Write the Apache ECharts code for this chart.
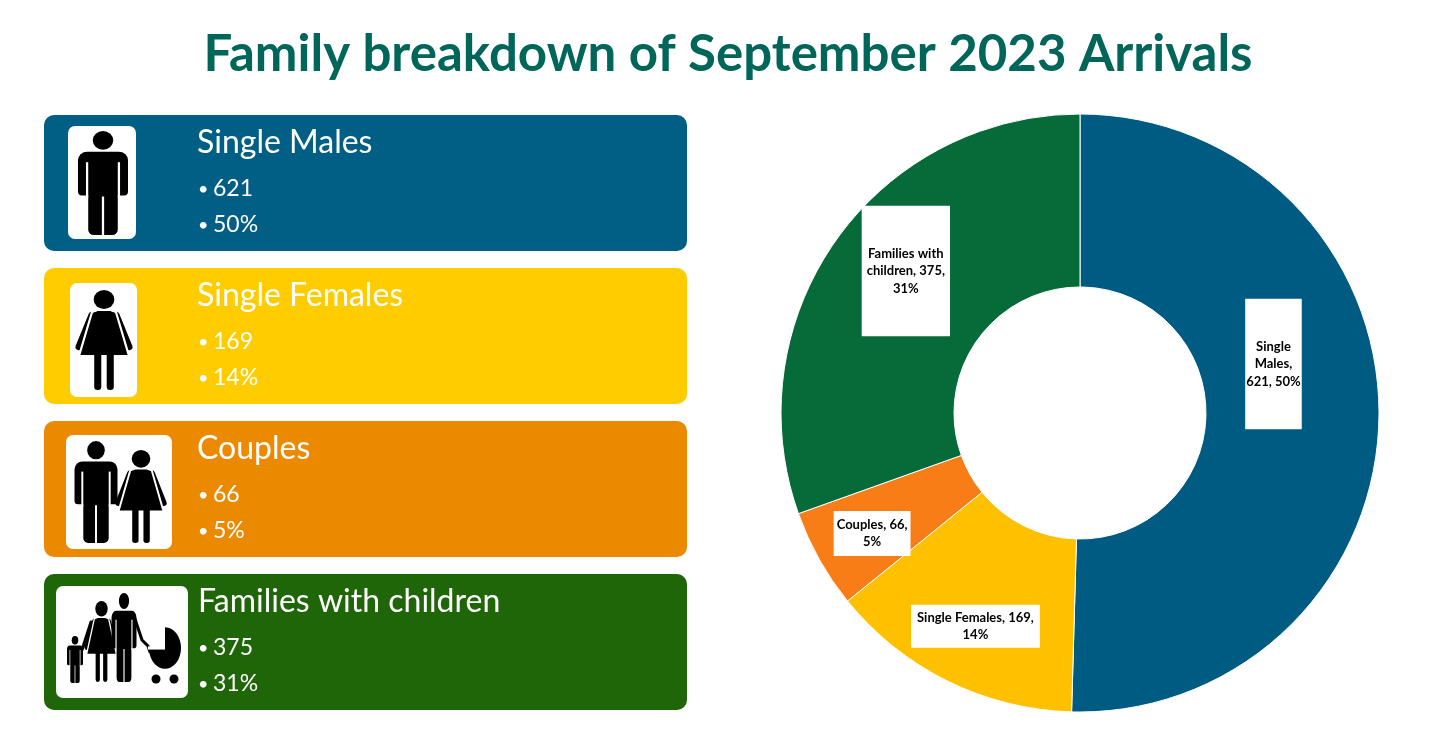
<!DOCTYPE html>
<html>
<head>
<meta charset="utf-8">
<title>Family breakdown of September 2023 Arrivals</title>
<script src="https://cdn.jsdelivr.net/npm/echarts@6/dist/echarts.min.js"></script>
<style>
  html, body { margin: 0; padding: 0; background: #fff; }
  #main { width: 1456px; height: 737px; }
</style>
</head>
<body>
<div id="main"></div>
<script>
// data
var categories = ['Single Males', 'Single Females', 'Couples', 'Families with children'];
var counts = [621, 169, 66, 375];
var percents = [50, 14, 5, 31];
var labelFormats = [
  'Single\nMales,\n{c}, {d}%',
  'Single Females, {c},\n{d}%',
  'Couples, {c},\n{d}%',
  'Families with\nchildren, {c},\n{d}%'
];

var sliceColors = ['#005B82', '#FFC000', '#F97D16', '#066B38'];
var boxColors = ['#015F85', '#FFCC00', '#EB8A00', '#1F6608'];
var FONT = 'Lato, "Open Sans", sans-serif';

/* pictograms, drawn in a 100-high unit box, x centred on 0 */
function man(cx, top, h, w) {
  return {
    type: 'group', x: cx, y: top, scaleX: w / 44, scaleY: h / 100,
    children: [
      { type: 'circle', shape: { cx: 0, cy: 9, r: 9 }, style: { fill: '#000' } },
      { type: 'rect', shape: { x: -22, y: 20, width: 44, height: 42, r: [8, 8, 3.5, 3.5] }, style: { fill: '#000' } },
      { type: 'rect', shape: { x: -13, y: 50, width: 26, height: 50, r: [0, 0, 5, 5] }, style: { fill: '#000' } },
      { type: 'rect', shape: { x: -15, y: 30, width: 2, height: 34 }, style: { fill: '#fff' } },
      { type: 'rect', shape: { x: 13, y: 30, width: 2, height: 34 }, style: { fill: '#fff' } },
      { type: 'rect', shape: { x: -1, y: 63, width: 2, height: 40 }, style: { fill: '#fff' } }
    ]
  };
}

function woman(cx, top, h, w) {
  return {
    type: 'group', x: cx, y: top, scaleX: w / 46, scaleY: h / 100,
    children: [
      { type: 'line', shape: { x1: -11, y1: 25, x2: -23, y2: 57 }, style: { stroke: '#000', lineWidth: 6.5, lineCap: 'round' } },
      { type: 'line', shape: { x1: 11, y1: 25, x2: 23, y2: 57 }, style: { stroke: '#000', lineWidth: 6.5, lineCap: 'round' } },
      { type: 'polygon', shape: { points: [[-6, 20], [6, 20], [11, 22], [23, 66], [-23, 66], [-11, 22]] },
        style: { fill: '#000', stroke: '#fff', lineWidth: 2 } },
      { type: 'circle', shape: { cx: 0, cy: 9.5, r: 9.5 }, style: { fill: '#000' } },
      { type: 'rect', shape: { x: -9, y: 64, width: 6.5, height: 36, r: [0, 0, 3, 3] }, style: { fill: '#000' } },
      { type: 'rect', shape: { x: 2.5, y: 64, width: 6.5, height: 36, r: [0, 0, 3, 3] }, style: { fill: '#000' } }
    ]
  };
}

function stroller() {
  return {
    type: 'group',
    children: [
      { type: 'polyline', shape: { points: [[134, 616], [142, 640], [148, 646], [150, 652]] },
        style: { stroke: '#000', lineWidth: 3, lineCap: 'round', lineJoin: 'round', fill: null } },
      { type: 'group', x: 165, y: 648, scaleY: 1.3, children: [
        { type: 'sector', shape: { cx: 0, cy: 0, r: 16, r0: 0, startAngle: -Math.PI / 2, endAngle: Math.PI, clockwise: true },
          style: { fill: '#000' } },
        { type: 'rect', shape: { x: -17, y: -1.2, width: 17, height: 2.4 }, style: { fill: '#fff' } }
      ] },
      { type: 'circle', shape: { cx: 156, cy: 679, r: 4.5 }, style: { fill: '#000' } },
      { type: 'circle', shape: { cx: 174, cy: 679, r: 4.5 }, style: { fill: '#000' } }
    ]
  };
}

// child's hand held by the mother
var handHold = { type: 'line', shape: { x1: 91, y1: 622, x2: 82, y2: 650 },
  style: { stroke: '#000', lineWidth: 3, lineCap: 'round' } };

var iconBoxes = [
  { x: 68, y: 126, w: 68, h: 113 },
  { x: 70, y: 283, w: 67, h: 114 },
  { x: 66, y: 435, w: 106, h: 114 },
  { x: 56, y: 586, w: 132, h: 112 }
];
var icons = [
  [man(103, 131, 104, 50)],
  [woman(104, 290, 100, 50)],
  [man(96, 441, 102, 43), woman(141, 450, 93, 45)],
  [handHold, man(75, 636, 47, 16), woman(101.5, 601, 81, 30), man(124, 593, 89, 25), stroller()]
];

var panel = [];
categories.forEach(function (name, i) {
  var top = 115 + i * 153;
  panel.push({ type: 'rect', shape: { x: 44, y: top, width: 643, height: 136, r: 10 }, style: { fill: boxColors[i] } });
  var ib = iconBoxes[i];
  panel.push({ type: 'rect', shape: { x: ib.x, y: ib.y, width: ib.w, height: ib.h, r: 7 }, style: { fill: '#fff' } });
  icons[i].forEach(function (g) { panel.push(g); });
  var tx = i === 3 ? 198 : 197;
  panel.push({ type: 'text', x: tx, y: top + 28,
    style: { text: name, fill: '#fff', font: '32px ' + FONT, verticalAlign: 'middle' } });
  [String(counts[i]), percents[i] + '%'].forEach(function (t, k) {
    var y = top + 74 + k * 36;
    panel.push({ type: 'text', x: 198, y: y,
      style: { text: '\u2022', fill: '#fff', font: '18px ' + FONT, verticalAlign: 'middle' } });
    panel.push({ type: 'text', x: 213, y: y,
      style: { text: t, fill: '#fff', font: '23px ' + FONT, verticalAlign: 'middle' } });
  });
});

var labelPads = [[39, 1], [4, 6], [5, 3], [39, 5]];
var labelShift = [[-22, -52], [-9, 20], [-20, 15], [2, -18]];

var option = {
  backgroundColor: '#fff',
  animation: false,
  title: {
    text: 'Family breakdown of September 2023 Arrivals',
    left: 'center',
    top: 24,
    textStyle: { color: '#00665A', fontSize: 51, fontWeight: 'bold', fontFamily: FONT }
  },
  graphic: { elements: panel },
  series: [{
    type: 'pie',
    center: [1080, 413],
    radius: [126, 299],
    startAngle: 90,
    clockwise: true,
    percentPrecision: 0,
    avoidLabelOverlap: false,
    itemStyle: { borderColor: '#fff', borderWidth: 1 },
    label: {
      show: true,
      position: 'inside',
      color: '#000',
      fontSize: 13,
      fontWeight: 'bold',
      fontFamily: FONT,
      lineHeight: 17.5,
      align: 'center',
      backgroundColor: '#fff'
    },
    labelLine: { show: false },
    labelLayout: function (params) {
      var s = labelShift[params.dataIndex];
      return { dx: s[0], dy: s[1] };
    },
    emphasis: { disabled: true },
    data: categories.map(function (name, i) {
      return {
        name: name,
        value: counts[i],
        itemStyle: { color: sliceColors[i] },
        label: { formatter: labelFormats[i], padding: labelPads[i] }
      };
    })
  }]
};

var chart = echarts.init(document.getElementById('main'));
chart.setOption(option);
</script>
</body>
</html>
